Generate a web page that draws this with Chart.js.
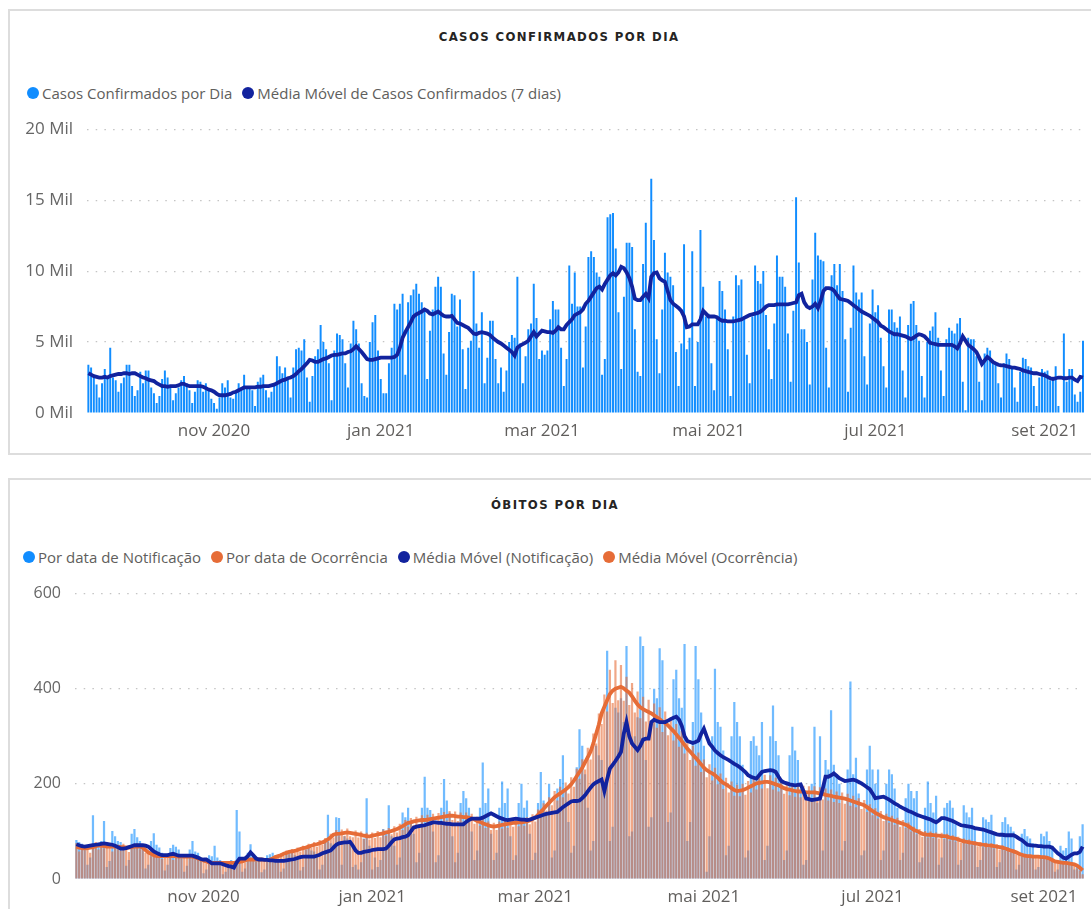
<!DOCTYPE html>
<html lang="pt-BR">
<head>
<meta charset="utf-8">
<title>Casos e óbitos por dia</title>
<script src="https://cdn.jsdelivr.net/npm/chart.js@4.4.1/dist/chart.umd.min.js"></script>
<style>
    body { margin: 0; width: 1091px; height: 909px; overflow: hidden; position: relative; background: #fff;
           font-family: 'Segoe UI', 'Open Sans', sans-serif; }
    .panel { position: absolute; left: 8px; width: 1110px; border: 2px solid #dddddd; box-sizing: border-box; }
    #panel-casos { top: 9px; height: 446px; }
    #panel-obitos { top: 478px; height: 460px; }
    .titulo { position: absolute; left: 0; width: 1118px; text-align: center; font-weight: bold; font-size: 13px;
              letter-spacing: 1.4px; color: #252423; font-family: 'DejaVu Sans Condensed', 'Liberation Sans Narrow', 'DejaVu Sans', sans-serif; }
    .legenda { position: absolute; display: flex; align-items: center; font-size: 15px; color: #605e5c; white-space: nowrap; }
    .legenda span.item { display: flex; align-items: center; margin-right: 10px; }
    .legenda i { display: inline-block; width: 12px; height: 12px; border-radius: 50%; margin-right: 3px; }
    canvas { position: absolute; left: 0; }
</style>
</head>
<body>
<div class="panel" id="panel-casos"></div>
<div class="panel" id="panel-obitos"></div>

<div class="titulo" style="top: 29px;">CASOS CONFIRMADOS POR DIA</div>
<div class="legenda" id="leg-casos" style="left: 27px; top: 83px;"></div>
<canvas id="chart-casos" width="1091" height="348" style="top: 105px;"></canvas>

<div class="titulo" style="top: 497px; left: -4px;">ÓBITOS POR DIA</div>
<div class="legenda" id="leg-obitos" style="left: 23px; top: 547px;"></div>
<canvas id="chart-obitos" width="1091" height="339" style="top: 570px;"></canvas>

<script>
// --- Data (one value per day, starting 16/09/2020) ---
const START = '2020-09-16';

// casos confirmados por dia, em milhares
const casosDia = [
    3.4, 3.2, 2.5, 2.0, 1.1, 2.1, 3.1, 2.5, 4.6, 2.5,
    2.3, 1.5, 2.1, 2.5, 3.4, 3.4, 1.9, 1.2, 1.6, 2.9,
    2.1, 3.0, 3.0, 1.8, 1.4, 0.7, 1.2, 2.4, 3.0, 2.5,
    1.8, 0.9, 1.4, 1.8, 2.3, 2.6, 2.1, 1.6, 0.7, 1.5,
    2.3, 2.2, 1.5, 2.1, 1.6, 1.0, 0.7, 0.3, 1.1, 2.1,
    1.8, 2.3, 1.1, 1.0, 1.6, 2.1, 1.8, 2.7, 1.9, 1.8,
    1.6, 0.5, 2.2, 2.5, 2.7, 1.6, 1.1, 1.5, 2.1, 4.0,
    3.3, 2.8, 3.2, 2.5, 1.1, 3.2, 4.5, 4.6, 4.4, 5.2,
    2.5, 0.8, 2.6, 4.0, 4.5, 6.2, 5.0, 4.5, 3.5, 0.9,
    4.4, 5.6,
    5.5, 5.2, 3.5, 1.8, 4.9, 6.5, 5.9, 4.9, 2.1, 1.2,
    1.1, 5.0, 6.4, 6.9, 4.4, 2.4, 1.4, 1.4, 3.5, 4.6,
    7.7, 7.3, 7.7, 8.4, 2.7, 7.8, 8.3, 8.7, 9.1, 8.4,
    7.8, 7.2, 2.4, 5.8, 7.3, 8.9, 9.6, 8.9, 4.2, 2.7,
    5.7, 8.4, 8.3, 6.1, 8.0, 4.5, 1.7, 4.6, 5.1, 10.0,
    6.3, 4.6, 7.1, 2.1, 3.9, 6.5, 6.5, 3.8, 2.1, 3.2,
    1.5, 3.0, 5.0, 5.5, 5.3, 9.6, 4.9, 2.1, 4.0, 5.9,
    6.3, 9.1, 6.7, 3.8, 4.4, 4.1, 4.4, 6.6, 7.9, 7.3,
    7.3, 4.6, 1.9, 3.8, 10.4, 7.7, 9.9, 7.5, 7.5, 3.2,
    6.1,
    11.0, 11.4, 11.0, 9.9, 9.6, 2.7, 3.8, 13.8, 14.0, 14.1,
    11.6, 7.1, 3.1, 8.2, 12.0, 12.0, 11.7, 5.9, 2.9, 2.6,
    10.5, 13.4, 8.2, 16.5, 12.2, 5.2, 2.8, 7.3, 11.3, 9.9,
    9.6, 9.0, 4.3, 1.9, 4.9, 11.9, 4.5, 5.3, 11.4, 1.9,
    5.0, 12.9, 8.9, 6.8, 7.0, 3.5, 1.6, 6.8, 9.3, 8.6,
    7.3, 4.5, 1.2, 6.8, 9.7, 9.0, 9.4, 6.8, 4.1, 2.1,
    6.8, 10.4, 9.3, 9.1, 10.0, 6.9, 4.5, 2.4, 6.3, 11.1,
    9.6, 9.6, 8.9, 5.6, 2.2, 7.2, 15.2, 10.6, 5.9, 5.9,
    5.0, 2.0, 9.4, 12.7, 11.1, 10.8, 10.7, 4.6, 1.8, 9.7,
    10.5, 9.0,
    10.5, 8.6, 5.2, 1.5, 6.0, 10.4, 8.5, 8.0, 8.5, 4.0,
    2.0, 6.3, 8.7, 7.1, 7.6, 5.3, 3.3, 1.8, 7.3, 7.3,
    6.4, 6.0, 6.8, 3.0, 1.1, 6.2, 7.7, 7.9, 6.2, 5.1,
    2.6, 1.1, 5.0, 5.8, 6.1, 7.1, 5.3, 3.0, 1.2, 5.2,
    6.0, 5.8, 5.6, 6.3, 6.7, 2.2, 0.2, 5.3, 5.2, 5.2,
    4.0, 2.2, 0.9, 4.2, 4.6, 4.4, 3.7, 3.5, 2.1, 1.1,
    3.5, 4.2, 3.8, 3.1, 1.8, 0.8, 2.9, 3.9, 3.8, 3.3,
    3.2, 1.9, 0.5, 2.5, 3.1, 2.9, 3.0, 2.3, 2.5, 3.3,
    0.5, 0.0, 5.6, 2.2, 3.1, 3.1, 1.3, 0.8, 1.5, 5.1
];

// média móvel de casos (7 dias), em milhares
const casosMedia = [
    2.8, 2.7, 2.6, 2.55, 2.5, 2.5, 2.55, 2.5, 2.6, 2.65,
    2.7, 2.75, 2.75, 2.8, 2.8, 2.75, 2.8, 2.8, 2.7, 2.6,
    2.5, 2.45, 2.35, 2.3, 2.25, 2.1, 2.0, 1.9, 1.9, 1.85,
    1.9, 1.9, 1.9, 1.95, 2.05, 2.05, 1.95, 1.9, 1.9, 1.9,
    1.9, 1.9, 1.85, 1.75, 1.65, 1.6, 1.5, 1.35, 1.25, 1.25,
    1.25, 1.3, 1.35, 1.45, 1.5, 1.6, 1.7, 1.8, 1.8, 1.8,
    1.8, 1.8, 1.85, 1.85, 1.9, 1.9, 1.9, 1.95, 2.0, 2.1,
    2.2, 2.3, 2.35, 2.45, 2.5, 2.6, 2.75, 2.95, 3.1, 3.3,
    3.5, 3.75, 3.7, 3.6, 3.6, 3.7, 3.8, 3.85, 3.95, 4.05,
    4.1, 4.1, 4.15, 4.2, 4.2, 4.3, 4.35, 4.5, 4.7, 4.5,
    4.3, 4.05, 3.8, 3.75, 3.75, 3.8, 3.85, 3.9, 3.9, 3.9,
    3.9, 3.9, 3.95, 4.1, 4.6, 5.3, 5.7, 6.05, 6.4, 6.8,
    6.95, 7.05, 7.15, 7.3, 7.2, 7.0, 6.95, 7.05, 7.15, 7.0,
    6.85, 6.8, 6.8, 6.85, 6.6, 6.35, 6.3, 6.2, 6.1, 6.0,
    5.8, 5.6, 5.55, 5.65, 5.7, 5.65, 5.6, 5.5, 5.3, 5.15,
    5.0, 4.9, 4.75, 4.6, 4.45, 4.3, 4.05, 4.6, 4.75, 4.85,
    4.95, 5.1, 5.4, 5.7, 5.4, 5.6, 5.8, 5.75, 5.7, 5.7,
    5.65, 5.8, 6.05, 5.9, 5.9, 6.2, 6.4, 6.6, 6.9, 7.0,
    7.1, 7.3, 7.7, 7.9, 8.2, 8.5, 8.8, 8.9, 8.7, 9.1,
    9.4, 9.7, 9.85, 9.7, 9.9, 10.3, 10.2, 9.9, 9.5, 8.9,
    8.05, 7.95, 7.95, 8.2, 8.4, 8.1, 9.6, 9.85, 9.9, 9.5,
    9.35, 9.25, 8.6, 7.95, 7.7, 7.55, 7.4, 7.2, 6.8, 6.05,
    6.1, 6.25, 6.25, 6.25, 6.6, 7.2, 7.0, 6.8, 6.8, 6.8,
    6.75, 6.6, 6.5, 6.5, 6.45, 6.45, 6.45, 6.5, 6.55, 6.6,
    6.7, 6.8, 6.9, 6.95, 7.0, 7.05, 7.15, 7.3, 7.5, 7.6,
    7.6, 7.6, 7.65, 7.65, 7.65, 7.65, 7.65, 7.7, 7.75, 7.8,
    8.3, 8.4, 7.8, 7.5, 7.4, 7.5, 7.7, 7.4, 7.9, 8.6,
    8.8, 8.8, 8.75, 8.6, 8.3, 8.05, 8.0, 7.95, 7.9, 7.75,
    7.6, 7.45, 7.3, 7.15, 7.05, 6.95, 6.85, 6.7, 6.55, 6.4,
    6.15, 6.05, 5.9, 5.75, 5.65, 5.55, 5.55, 5.5, 5.45, 5.4,
    5.3, 5.2, 5.3, 5.45, 5.55, 5.5, 5.4, 5.2, 4.95, 4.9,
    4.85, 4.8, 4.8, 4.8, 4.8, 4.8, 4.8, 4.7, 4.55, 4.9,
    5.4, 5.1, 4.8, 4.65, 4.5, 4.3, 3.9, 3.45, 3.7, 3.95,
    3.8, 3.6, 3.5, 3.4, 3.35, 3.35, 3.3, 3.25, 3.2, 3.2,
    3.15, 3.1, 3.0, 2.95, 2.9, 2.85, 2.8, 2.8, 2.75, 2.7,
    2.65, 2.55, 2.45, 2.4, 2.45, 2.5, 2.5, 2.45, 2.45, 2.5,
    2.5, 2.35, 2.25, 2.55, 2.5
];

// óbitos por data de notificação
const obitosNotificacao = [
    82, 78, 74, 68,
    30, 45, 134, 75, 70, 80, 122,
    25, 38, 101, 90, 80, 78, 66,
    28, 40, 95, 105, 88, 80, 70,
    22, 30, 80, 96, 72, 66, 55,
    18, 30, 65, 72, 68, 62, 48,
    15, 28, 62, 80, 58, 55, 45,
    12, 20, 50, 48, 70, 45, 40,
    10, 15, 35, 40, 38, 145, 100,
    15, 22, 55, 73, 50, 48, 42,
    14, 20, 50, 52, 55, 48, 38,
    15, 22, 52, 60, 55, 50, 42,
    18, 25, 62, 65, 60, 58, 45,
    20, 30, 80, 135, 75, 72, 130,
    128, 30, 90, 85, 80, 25, 30,
    20, 35, 85, 170, 70, 20, 45,
    25, 40, 105, 95, 155, 90, 70,
    30, 45, 140, 130, 150, 120, 95,
    35, 55, 150, 215, 150, 145, 100,
    35, 50, 150, 210, 165, 140, 90,
    35, 55, 160, 185, 170, 150, 100,
    40, 60, 150, 245, 160, 190, 95,
    40, 55, 150, 205, 160, 190, 90,
    40, 50, 160, 200, 150, 165, 95,
    40, 55, 160, 225, 165, 140, 200,
    45, 60, 190, 210, 260, 190, 120,
    55, 70, 235, 315, 280, 220, 150,
    60, 80, 280, 260, 250, 200, 480,
    80, 110, 360, 350, 380, 330, 490,
    90, 100, 300, 340, 510, 490, 250,
    110, 130, 400, 380, 485, 460, 330,
    120, 140, 420, 440, 380, 360, 494,
    80, 120, 330, 490, 420, 350, 280,
    15, 90, 300, 442, 330, 320, 270,
    50, 70, 300, 372, 330, 300, 240,
    45, 60, 290, 300, 280, 260, 330,
    40, 70, 300, 365, 290, 260, 210,
    40, 60, 260, 320, 270, 250, 190,
    30, 40, 180, 200, 320, 160, 300,
    60, 250, 230, 355, 240, 220, 200,
    60, 80, 230, 415, 220, 255, 180,
    50, 60, 230, 280, 230, 200, 230,
    40, 60, 200, 230, 220, 190, 150,
    40, 55, 170, 200, 185, 170, 185,
    35, 45, 150, 205, 160, 140, 175,
    30, 45, 150, 160, 165, 150, 115,
    30, 40, 155, 140, 130, 150, 105,
    25, 40, 130, 125, 120, 135, 95,
    25, 35, 120, 130, 115, 110, 100,
    20, 30, 95, 105, 90, 85, 75,
    20, 25, 95, 90, 100, 80, 70,
    15, 20, 70, 60, 65, 100, 85,
    20, 30, 90, 115
];

// óbitos por data de ocorrência
const obitosOcorrencia = [
    75, 58, 72, 60, 70, 55, 74, 78, 62, 76,
    64, 75, 70, 58, 73, 66, 60, 74, 70, 57,
    72, 65, 75, 62, 68, 55, 60, 48, 55, 44,
    52, 42, 50, 46, 55, 40, 49, 51, 43, 47,
    50, 44, 52, 40, 46, 38, 42, 33, 38, 30,
    36, 31, 38, 30, 37, 32, 35, 30, 38, 34,
    40, 35, 44, 38, 45, 37, 43, 39, 44, 36,
    44, 40, 50, 45, 54, 49, 60, 52, 63, 55,
    66, 58, 70, 62, 74, 65, 78, 68, 82, 72,
    86, 78, 95, 87, 103, 90, 104, 91, 106, 90,
    88, 102, 87, 100, 84, 97, 83, 98, 86, 101,
    88, 104, 91, 107, 94, 111, 98, 116, 103, 124,
    110, 128, 113, 131, 115, 134, 116, 135, 118, 137,
    120, 139, 121, 141, 123, 143, 124, 142, 122, 140,
    121, 140, 120, 137, 116, 131, 112, 126, 107, 121,
    103, 118, 103, 121, 106, 124, 108, 126, 110, 127,
    111, 128, 112, 130, 115, 136, 121, 146, 132, 159,
    144, 172, 155, 185, 165, 194, 172, 203, 180, 214,
    194, 232, 211, 252, 230, 276, 251, 306, 285, 348,
    326, 388, 352, 440, 370, 460, 376, 450, 375, 425,
    366, 412, 350, 394, 338, 383, 331, 377, 325, 369,
    318, 361, 309, 352, 302, 340, 291, 326, 278, 311,
    264, 294, 250, 280, 238, 266, 225, 251, 214, 241,
    207, 234, 199, 222, 189, 213, 182, 205, 175, 198,
    174, 200, 177, 206, 182, 212, 188, 217, 190, 219,
    191, 218, 188, 213, 184, 208, 179, 203, 176, 200,
    173, 198, 172, 196, 170, 195, 170, 195, 169, 193,
    167, 190, 165, 188, 162, 184, 160, 182, 158, 179,
    154, 175, 151, 170, 147, 166, 141, 157, 134, 149,
    127, 143, 122, 137, 118, 133, 114, 129, 110, 124,
    107, 119, 100, 110, 94, 105, 89, 101, 87, 100,
    86, 98, 85, 97, 84, 95, 81, 92, 79, 89,
    76, 85, 73, 83, 71, 80, 69, 78, 67, 76,
    65, 75, 64, 73, 62, 71, 60, 66, 56, 62,
    52, 57, 48, 53, 45, 51, 44, 50, 44, 49,
    43, 48, 40, 43, 34, 38, 32, 36, 31, 34,
    30, 29, 22, 18, 10
];

// média móvel (notificação)
const mediaNotificacao = [
    73, 71, 69, 68, 69, 70, 71, 72, 73, 74,
    75, 74, 73, 72, 70, 67, 64, 64, 65, 67,
    69, 71, 71, 71, 71, 70, 68, 63, 58, 55,
    52, 50, 50, 50, 52, 53, 51, 49, 49, 49,
    49, 49, 49, 47, 45, 42, 41, 41, 37, 33,
    33, 33, 33, 31, 29, 27, 26, 24, 35, 43,
    43, 43, 48, 56, 50, 43, 41, 41, 40, 40,
    39, 39, 38, 38, 38, 38, 39, 40, 41, 42,
    44, 46, 47, 47, 47, 47, 47, 49, 51, 54,
    56, 58, 60, 66, 72, 75, 76, 77, 77, 78,
    70, 60, 55, 55, 57, 58, 59, 61, 62, 63,
    63, 63, 64, 70, 77, 83, 85, 86, 88, 89,
    92, 100, 108, 110, 111, 112, 113, 115, 117, 119,
    119, 118, 118, 117, 116, 116, 115, 115, 115, 115,
    115, 120, 124, 127, 127, 127, 127, 129, 132, 135,
    138, 135, 132, 129, 127, 125, 124, 125, 126, 127,
    126, 125, 125, 124, 125, 127, 129, 131, 133, 135,
    137, 138, 139, 140, 141, 146, 151, 155, 159, 163,
    164, 164, 165, 170, 176, 184, 192, 199, 203, 206,
    209, 185, 210, 232, 240, 248, 257, 267, 305, 330,
    300, 285, 278, 271, 280, 293, 295, 295, 330, 335,
    332, 330, 330, 330, 333, 336, 339, 341, 335, 322,
    300, 290, 288, 286, 288, 291, 305, 316, 300, 285,
    278, 270, 265, 260, 256, 253, 250, 246, 242, 239,
    235, 230, 225, 218, 215, 213, 211, 218, 225, 227,
    228, 229, 228, 225, 215, 206, 203, 201, 199, 198,
    197, 198, 199, 185, 169, 168, 166, 167, 168, 169,
    190, 215, 215, 218, 222, 217, 212, 209, 206, 207,
    208, 209, 207, 204, 201, 197, 193, 189, 180, 170,
    171, 172, 173, 170, 167, 163, 159, 156, 152, 149,
    146, 143, 141, 138, 135, 133, 131, 129, 127, 125,
    122, 119, 123, 128, 128, 126, 124, 122, 119, 116,
    113, 112, 111, 110, 109, 107, 106, 105, 104, 102,
    100, 98, 96, 94, 93, 93, 92, 92, 92, 92,
    89, 85, 82, 77, 72, 71, 70, 70, 69, 69,
    68, 68, 68, 66, 60, 54, 50, 45, 43, 47,
    51, 54, 54, 57, 68
];

// média móvel (ocorrência)
const mediaOcorrencia = [
    68, 66, 65, 64, 65, 66, 67, 69, 70, 70,
    69, 68, 68, 68, 68, 68, 67, 67, 66, 66,
    67, 68, 68, 68, 66, 61, 56, 53, 50, 48,
    48, 48, 48, 48, 48, 48, 48, 47, 47, 47,
    47, 47, 47, 45, 43, 41, 39, 37, 35, 34,
    34, 34, 34, 34, 34, 34, 34, 34, 35, 36,
    37, 39, 41, 41, 41, 41, 41, 41, 40, 40,
    41, 43, 46, 48, 50, 53, 55, 57, 58, 59,
    61, 63, 65, 66, 68, 70, 72, 73, 75, 77,
    80, 83, 88, 93, 95, 95, 96, 97, 98, 97,
    96, 95, 94, 93, 91, 90, 89, 91, 92, 94,
    95, 96, 98, 99, 101, 103, 105, 108, 111, 115,
    118, 119, 121, 122, 123, 124, 124, 125, 126, 127,
    128, 129, 130, 131, 132, 133, 133, 132, 131, 131,
    130, 130, 129, 127, 125, 122, 120, 117, 115, 113,
    111, 110, 111, 112, 114, 115, 116, 117, 118, 118,
    119, 119, 120, 121, 123, 126, 129, 135, 141, 147,
    154, 160, 166, 172, 176, 180, 184, 188, 193, 199,
    207, 216, 225, 234, 245, 256, 268, 285, 305, 325,
    348, 362, 376, 389, 396, 400, 402, 404, 401, 396,
    392, 384, 375, 367, 361, 357, 354, 351, 348, 344,
    340, 336, 331, 328, 323, 317, 311, 304, 297, 290,
    282, 274, 268, 261, 255, 248, 241, 234, 229, 225,
    222, 218, 213, 207, 202, 199, 195, 191, 187, 185,
    186, 187, 189, 192, 195, 198, 201, 202, 203, 204,
    204, 203, 201, 199, 197, 194, 191, 189, 188, 186,
    185, 184, 184, 183, 182, 182, 182, 182, 181, 180,
    179, 177, 176, 175, 173, 172, 171, 170, 169, 167,
    165, 163, 161, 159, 157, 155, 151, 147, 143, 139,
    136, 133, 130, 128, 126, 124, 122, 120, 118, 116,
    114, 111, 107, 103, 101, 98, 95, 94, 93, 93,
    92, 91, 91, 90, 90, 89, 87, 86, 85, 83,
    81, 79, 78, 77, 76, 75, 74, 73, 72, 71,
    70, 70, 69, 68, 67, 66, 64, 62, 60, 58,
    56, 53, 51, 49, 48, 48, 47, 47, 47, 46,
    46, 45, 43, 40, 37, 36, 35, 34, 34, 33,
    32, 31, 28, 24, 18
];

// x-axis labels (first day of every other month)
const marcaDatas = ['2020-11-01', '2021-01-01', '2021-03-01', '2021-05-01', '2021-07-01', '2021-09-01'];
const marcaTextos = ['nov 2020', 'jan 2021', 'mar 2021', 'mai 2021', 'jul 2021', 'set 2021'];

// --- Colours (Power BI default palette) ---
const AZUL = '#118DFF';
const AZUL_ESCURO = '#12239E';
const LARANJA = '#E66C37';

// category list: one label per day
const dias = [];
const inicio = new Date(START + 'T00:00:00Z');
for (let i = 0; i < casosDia.length; i++) {
    dias.push(new Date(inicio.getTime() + i * 86400000).toISOString().slice(0, 10));
}

// --- Legends (HTML, like Power BI) ---
function montaLegenda(id, itens) {
    const el = document.getElementById(id);
    itens.forEach(([texto, cor]) => {
        const s = document.createElement('span');
        s.className = 'item';
        s.innerHTML = '<i style="background:' + cor + '"></i>' + texto;
        el.appendChild(s);
    });
}
montaLegenda('leg-casos', [['Casos Confirmados por Dia', AZUL], ['Média Móvel de Casos Confirmados (7 dias)', AZUL_ESCURO]]);
montaLegenda('leg-obitos', [['Por data de Notificação', AZUL], ['Por data de Ocorrência', LARANJA],
                            ['Média Móvel (Notificação)', AZUL_ESCURO], ['Média Móvel (Ocorrência)', LARANJA]]);

// --- Shared axis options ---
const fonteEixo = { family: "'Segoe UI', 'Open Sans', sans-serif" };

function eixoX(altura) {
    return {
        type: 'category',
        grid: { display: false, drawTicks: false },
        border: { display: false },
        ticks: {
            autoSkip: false, maxRotation: 0, minRotation: 0, padding: 8,
            color: '#605e5c', font: { ...fonteEixo, size: 17 },
            callback(value) {
                const k = marcaDatas.indexOf(this.getLabelForValue(value));
                return k >= 0 ? marcaTextos[k] : '';
            }
        },
        afterFit(scale) { scale.height = altura; }
    };
}

function eixoY(max, passo, largura, tamanho, formato) {
    return {
        min: 0, max: max,
        grid: {
            drawTicks: false, lineWidth: 1.2,
            color: ctx => ctx.tick && ctx.tick.value === 0 ? 'rgba(0,0,0,0)' : '#c4c4c4'
        },
        border: { display: false, dash: [1.5, 7.2] },
        ticks: { stepSize: passo, padding: 14, color: '#666666', font: { ...fonteEixo, size: tamanho }, callback: formato },
        afterFit(scale) { scale.width = largura; }
    };
}

Chart.defaults.animation = false;
Chart.defaults.plugins.legend.display = false;
Chart.defaults.plugins.tooltip.enabled = false;

// --- 1. Casos confirmados por dia ---
new Chart(document.getElementById('chart-casos'), {
    type: 'bar',
    data: {
        labels: dias,
        datasets: [
            {
                type: 'line', label: 'Média Móvel de Casos Confirmados (7 dias)', data: casosMedia,
                borderColor: AZUL_ESCURO, borderWidth: 3.8, pointRadius: 0, tension: 0, order: 0
            },
            {
                label: 'Casos Confirmados por Dia', data: casosDia, backgroundColor: AZUL,
                barPercentage: 0.72, categoryPercentage: 1.0, order: 1
            }
        ]
    },
    options: {
        responsive: false,
        layout: { padding: { top: 14, right: 4, left: 0, bottom: 0 } },
        scales: {
            x: eixoX(40),
            y: eixoY(20, 5, 87, 17, v => v + ' Mil')
        }
    }
});

// --- 2. Óbitos por dia (bars overlap, semi-transparent, like the original) ---
new Chart(document.getElementById('chart-obitos'), {
    type: 'bar',
    data: {
        labels: dias,
        datasets: [
            {
                type: 'line', label: 'Média Móvel (Notificação)', data: mediaNotificacao,
                borderColor: AZUL_ESCURO, borderWidth: 3.8, pointRadius: 0, tension: 0, order: 0
            },
            {
                type: 'line', label: 'Média Móvel (Ocorrência)', data: mediaOcorrencia,
                borderColor: LARANJA, borderWidth: 3.8, pointRadius: 0, tension: 0, order: 1
            },
            {
                label: 'Por data de Ocorrência', data: obitosOcorrencia, backgroundColor: 'rgba(230,108,55,0.6)',
                grouped: false, barPercentage: 0.8, categoryPercentage: 1.0, order: 2
            },
            {
                label: 'Por data de Notificação', data: obitosNotificacao, backgroundColor: 'rgba(17,141,255,0.6)',
                grouped: false, barPercentage: 0.8, categoryPercentage: 1.0, order: 3
            }
        ]
    },
    options: {
        responsive: false,
        layout: { padding: { top: 14, right: 7, left: 0, bottom: 0 } },
        scales: {
            x: eixoX(30),
            y: eixoY(600, 200, 75, 16, v => v)
        }
    }
});
</script>
</body>
</html>
